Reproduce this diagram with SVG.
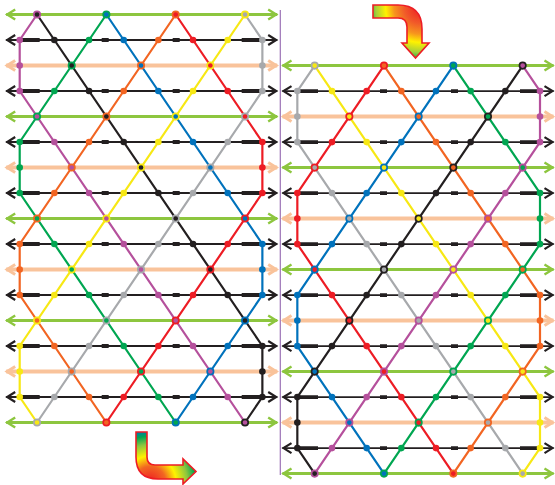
<svg xmlns="http://www.w3.org/2000/svg" width="555" height="485" viewBox="0 0 555 485">
<style>
.hk{stroke:#231f20;stroke-width:1.8;marker-start:url(#ak);marker-end:url(#ak)}
.hg{stroke:#8dc63f;stroke-width:3;marker-start:url(#ag);marker-end:url(#ag)}
.ho{stroke:#f9c39b;stroke-width:4;marker-start:url(#ao);marker-end:url(#ao)}
.thick{fill:none;stroke:#231f20;stroke-width:3.8}
.d{fill:none;stroke-width:2.2;stroke-linejoin:round}
.ring{stroke-width:1.7}
.s-pu{stroke:#b5509c}.f-pu{fill:#b5509c}
.s-bk{stroke:#231f20}.f-bk{fill:#231f20}
.s-gn{stroke:#00a651}.f-gn{fill:#00a651}
.s-bl{stroke:#0072bc}.f-bl{fill:#0072bc}
.s-or{stroke:#f26522}.f-or{fill:#f26522}
.s-rd{stroke:#ed1c24}.f-rd{fill:#ed1c24}
.s-ye{stroke:#f7e814}.f-ye{fill:#f7e814}
.s-gy{stroke:#a7a9ac}.f-gy{fill:#a7a9ac}
.arrow{stroke:#ed1c24;stroke-width:1.6;stroke-linejoin:miter}
</style>
<defs>
<marker id="ak" viewBox="-12 -7 14 14" refX="0" refY="0" markerWidth="14" markerHeight="14" markerUnits="userSpaceOnUse" orient="auto-start-reverse"><path d="M-9,-5 L-1,0 L-9,5" fill="none" stroke="#231f20" stroke-width="2.2"/></marker>
<marker id="ag" viewBox="-12 -7 14 14" refX="0" refY="0" markerWidth="14" markerHeight="14" markerUnits="userSpaceOnUse" orient="auto-start-reverse"><path d="M-9,-5 L-1,0 L-9,5" fill="none" stroke="#8dc63f" stroke-width="2.4"/></marker>
<marker id="ao" viewBox="-12 -7 14 14" refX="0" refY="0" markerWidth="14" markerHeight="14" markerUnits="userSpaceOnUse" orient="auto-start-reverse"><path d="M-9,-5 L-1,0 L-9,5" fill="none" stroke="#f9c39b" stroke-width="3"/></marker>
<radialGradient id="gt" gradientUnits="userSpaceOnUse" cx="420" cy="8" r="52">
<stop offset="0" stop-color="#ed1c24"/><stop offset="0.3" stop-color="#f15a29"/><stop offset="0.5" stop-color="#f7941d"/><stop offset="0.66" stop-color="#fff200"/><stop offset="0.85" stop-color="#a6ce39"/><stop offset="1" stop-color="#00a651"/>
</radialGradient>
<radialGradient id="gb" gradientUnits="userSpaceOnUse" cx="150" cy="482" r="52">
<stop offset="0" stop-color="#ed1c24"/><stop offset="0.3" stop-color="#f26522"/><stop offset="0.5" stop-color="#fff200"/><stop offset="0.72" stop-color="#8dc63f"/><stop offset="0.88" stop-color="#00a651"/><stop offset="1" stop-color="#0072bc"/>
</radialGradient>
<g id="lattice">
<g id="rows">
<line class="hg" x1="-13.5" y1="0" x2="257.5" y2="0"/>
<line class="hk" x1="-13.5" y1="25.5" x2="257.5" y2="25.5"/>
<line class="ho" x1="-13.5" y1="51" x2="257.5" y2="51"/>
<line class="hk" x1="-13.5" y1="76.5" x2="257.5" y2="76.5"/>
<line class="hg" x1="-13.5" y1="102" x2="257.5" y2="102"/>
<line class="hk" x1="-13.5" y1="127.5" x2="257.5" y2="127.5"/>
<line class="ho" x1="-13.5" y1="153" x2="257.5" y2="153"/>
<line class="hk" x1="-13.5" y1="178.5" x2="257.5" y2="178.5"/>
<line class="hg" x1="-13.5" y1="204" x2="257.5" y2="204"/>
<line class="hk" x1="-13.5" y1="229.5" x2="257.5" y2="229.5"/>
<line class="ho" x1="-13.5" y1="255" x2="257.5" y2="255"/>
<line class="hk" x1="-13.5" y1="280.5" x2="257.5" y2="280.5"/>
<line class="hg" x1="-13.5" y1="306" x2="257.5" y2="306"/>
<line class="hk" x1="-13.5" y1="331.5" x2="257.5" y2="331.5"/>
<line class="ho" x1="-13.5" y1="357" x2="257.5" y2="357"/>
<line class="hk" x1="-13.5" y1="382.5" x2="257.5" y2="382.5"/>
<line class="hg" x1="-13.5" y1="408" x2="257.5" y2="408"/>
<path class="thick" d="M2,25.5H20M82,25.5H89M153,25.5H160M222,25.5H242 M2,76.5H20M82,76.5H89M153,76.5H160M222,76.5H242 M2,127.5H20M82,127.5H89M153,127.5H160M222,127.5H242 M2,178.5H20M82,178.5H89M153,178.5H160M222,178.5H242 M2,229.5H20M82,229.5H89M153,229.5H160M222,229.5H242 M2,280.5H20M82,280.5H89M153,280.5H160M222,280.5H242 M2,331.5H20M82,331.5H89M153,331.5H160M222,331.5H242 M2,382.5H20M82,382.5H89M153,382.5H160M222,382.5H242"/>
</g>
<g id="diagonals">
<path class="d s-pu" d="M17.33,0 L0,25.5 L0,76.5 L225.33,408"/>
<path class="d s-bk" d="M17.33,0 L242.67,331.5 L242.67,382.5 L225.33,408"/>
<path class="d s-gn" d="M86.67,0 L0,127.5 L0,178.5 L156,408"/>
<path class="d s-bl" d="M86.67,0 L242.67,229.5 L242.67,280.5 L156,408"/>
<path class="d s-or" d="M156,0 L0,229.5 L0,280.5 L86.67,408"/>
<path class="d s-rd" d="M156,0 L242.67,127.5 L242.67,178.5 L86.67,408"/>
<path class="d s-ye" d="M225.33,0 L0,331.5 L0,382.5 L17.33,408"/>
<path class="d s-gy" d="M225.33,0 L242.67,25.5 L242.67,76.5 L17.33,408"/>
</g>
<g id="dots">
<g class="f-pu"><circle cx="0" cy="25.5" r="3.3"/><circle cx="0" cy="51" r="3.3"/><circle cx="0" cy="76.5" r="3.3"/><circle cx="34.67" cy="127.5" r="3.3"/><circle cx="69.33" cy="178.5" r="3.3"/><circle cx="104" cy="229.5" r="3.3"/><circle cx="138.67" cy="280.5" r="3.3"/><circle cx="173.33" cy="331.5" r="3.3"/><circle cx="208" cy="382.5" r="3.3"/></g>
<g class="f-bk"><circle cx="34.67" cy="25.5" r="3.3"/><circle cx="69.33" cy="76.5" r="3.3"/><circle cx="104" cy="127.5" r="3.3"/><circle cx="138.67" cy="178.5" r="3.3"/><circle cx="173.33" cy="229.5" r="3.3"/><circle cx="208" cy="280.5" r="3.3"/><circle cx="242.67" cy="331.5" r="3.3"/><circle cx="242.67" cy="357" r="3.3"/><circle cx="242.67" cy="382.5" r="3.3"/></g>
<g class="f-gn"><circle cx="69.33" cy="25.5" r="3.3"/><circle cx="34.67" cy="76.5" r="3.3"/><circle cx="0" cy="127.5" r="3.3"/><circle cx="0" cy="153" r="3.3"/><circle cx="0" cy="178.5" r="3.3"/><circle cx="34.67" cy="229.5" r="3.3"/><circle cx="69.33" cy="280.5" r="3.3"/><circle cx="104" cy="331.5" r="3.3"/><circle cx="138.67" cy="382.5" r="3.3"/></g>
<g class="f-bl"><circle cx="104" cy="25.5" r="3.3"/><circle cx="138.67" cy="76.5" r="3.3"/><circle cx="173.33" cy="127.5" r="3.3"/><circle cx="208" cy="178.5" r="3.3"/><circle cx="242.67" cy="229.5" r="3.3"/><circle cx="242.67" cy="255" r="3.3"/><circle cx="242.67" cy="280.5" r="3.3"/><circle cx="208" cy="331.5" r="3.3"/><circle cx="173.33" cy="382.5" r="3.3"/></g>
<g class="f-or"><circle cx="138.67" cy="25.5" r="3.3"/><circle cx="104" cy="76.5" r="3.3"/><circle cx="69.33" cy="127.5" r="3.3"/><circle cx="34.67" cy="178.5" r="3.3"/><circle cx="0" cy="229.5" r="3.3"/><circle cx="0" cy="255" r="3.3"/><circle cx="0" cy="280.5" r="3.3"/><circle cx="34.67" cy="331.5" r="3.3"/><circle cx="69.33" cy="382.5" r="3.3"/></g>
<g class="f-rd"><circle cx="173.33" cy="25.5" r="3.3"/><circle cx="208" cy="76.5" r="3.3"/><circle cx="242.67" cy="127.5" r="3.3"/><circle cx="242.67" cy="153" r="3.3"/><circle cx="242.67" cy="178.5" r="3.3"/><circle cx="208" cy="229.5" r="3.3"/><circle cx="173.33" cy="280.5" r="3.3"/><circle cx="138.67" cy="331.5" r="3.3"/><circle cx="104" cy="382.5" r="3.3"/></g>
<g class="f-ye"><circle cx="208" cy="25.5" r="3.3"/><circle cx="173.33" cy="76.5" r="3.3"/><circle cx="138.67" cy="127.5" r="3.3"/><circle cx="104" cy="178.5" r="3.3"/><circle cx="69.33" cy="229.5" r="3.3"/><circle cx="34.67" cy="280.5" r="3.3"/><circle cx="0" cy="331.5" r="3.3"/><circle cx="0" cy="357" r="3.3"/><circle cx="0" cy="382.5" r="3.3"/></g>
<g class="f-gy"><circle cx="242.67" cy="25.5" r="3.3"/><circle cx="242.67" cy="51" r="3.3"/><circle cx="242.67" cy="76.5" r="3.3"/><circle cx="208" cy="127.5" r="3.3"/><circle cx="173.33" cy="178.5" r="3.3"/><circle cx="138.67" cy="229.5" r="3.3"/><circle cx="104" cy="280.5" r="3.3"/><circle cx="69.33" cy="331.5" r="3.3"/><circle cx="34.67" cy="382.5" r="3.3"/></g>
</g>
</g>
</defs>

<line id="separator" x1="280.3" y1="10" x2="280.3" y2="475" stroke="#9b72b6" stroke-width="1.2"/>

<g id="left-panel" transform="translate(19.7,14.5)">
<use href="#lattice"/>
<g id="left-crossings" class="ring">
<circle class="s-pu f-bk" cx="17.33" cy="0" r="3.2"/><circle class="s-gn f-bl" cx="86.67" cy="0" r="3.2"/><circle class="s-or f-rd" cx="156" cy="0" r="3.2"/><circle class="s-ye f-gy" cx="225.33" cy="0" r="3.2"/>
<circle class="s-gn f-bk" cx="52" cy="51" r="3.2"/><circle class="s-or f-bl" cx="121.33" cy="51" r="3.2"/><circle class="s-ye f-rd" cx="190.67" cy="51" r="3.2"/>
<circle class="s-gn f-pu" cx="17.33" cy="102" r="3.2"/><circle class="s-or f-bk" cx="86.67" cy="102" r="3.2"/><circle class="s-ye f-bl" cx="156" cy="102" r="3.2"/><circle class="s-gy f-rd" cx="225.33" cy="102" r="3.2"/>
<circle class="s-or f-pu" cx="52" cy="153" r="3.2"/><circle class="s-ye f-bk" cx="121.33" cy="153" r="3.2"/><circle class="s-gy f-bl" cx="190.67" cy="153" r="3.2"/>
<circle class="s-or f-gn" cx="17.33" cy="204" r="3.2"/><circle class="s-ye f-pu" cx="86.67" cy="204" r="3.2"/><circle class="s-gy f-bk" cx="156" cy="204" r="3.2"/><circle class="s-rd f-bl" cx="225.33" cy="204" r="3.2"/>
<circle class="s-ye f-gn" cx="52" cy="255" r="3.2"/><circle class="s-gy f-pu" cx="121.33" cy="255" r="3.2"/><circle class="s-rd f-bk" cx="190.67" cy="255" r="3.2"/>
<circle class="s-ye f-or" cx="17.33" cy="306" r="3.2"/><circle class="s-gy f-gn" cx="86.67" cy="306" r="3.2"/><circle class="s-rd f-pu" cx="156" cy="306" r="3.2"/><circle class="s-bl f-bk" cx="225.33" cy="306" r="3.2"/>
<circle class="s-gy f-or" cx="52" cy="357" r="3.2"/><circle class="s-rd f-gn" cx="121.33" cy="357" r="3.2"/><circle class="s-bl f-pu" cx="190.67" cy="357" r="3.2"/>
<circle class="s-gy f-ye" cx="17.33" cy="408" r="3.2"/><circle class="s-rd f-or" cx="86.67" cy="408" r="3.2"/><circle class="s-bl f-gn" cx="156" cy="408" r="3.2"/><circle class="s-bk f-pu" cx="225.33" cy="408" r="3.2"/>
</g>
</g>

<g id="right-panel" transform="translate(540,65.6) scale(-1,1)">
<use href="#lattice"/>
<g id="right-crossings" class="ring">
<circle class="f-pu s-bk" cx="17.33" cy="0" r="3.2"/><circle class="f-gn s-bl" cx="86.67" cy="0" r="3.2"/><circle class="f-or s-rd" cx="156" cy="0" r="3.2"/><circle class="f-ye s-gy" cx="225.33" cy="0" r="3.2"/>
<circle class="f-gn s-bk" cx="52" cy="51" r="3.2"/><circle class="f-or s-bl" cx="121.33" cy="51" r="3.2"/><circle class="f-ye s-rd" cx="190.67" cy="51" r="3.2"/>
<circle class="f-gn s-pu" cx="17.33" cy="102" r="3.2"/><circle class="f-or s-bk" cx="86.67" cy="102" r="3.2"/><circle class="f-ye s-bl" cx="156" cy="102" r="3.2"/><circle class="f-gy s-rd" cx="225.33" cy="102" r="3.2"/>
<circle class="f-or s-pu" cx="52" cy="153" r="3.2"/><circle class="f-ye s-bk" cx="121.33" cy="153" r="3.2"/><circle class="f-gy s-bl" cx="190.67" cy="153" r="3.2"/>
<circle class="f-or s-gn" cx="17.33" cy="204" r="3.2"/><circle class="f-ye s-pu" cx="86.67" cy="204" r="3.2"/><circle class="f-gy s-bk" cx="156" cy="204" r="3.2"/><circle class="f-rd s-bl" cx="225.33" cy="204" r="3.2"/>
<circle class="f-ye s-gn" cx="52" cy="255" r="3.2"/><circle class="f-gy s-pu" cx="121.33" cy="255" r="3.2"/><circle class="f-rd s-bk" cx="190.67" cy="255" r="3.2"/>
<circle class="f-ye s-or" cx="17.33" cy="306" r="3.2"/><circle class="f-gy s-gn" cx="86.67" cy="306" r="3.2"/><circle class="f-rd s-pu" cx="156" cy="306" r="3.2"/><circle class="f-bl s-bk" cx="225.33" cy="306" r="3.2"/>
<circle class="f-gy s-or" cx="52" cy="357" r="3.2"/><circle class="f-rd s-gn" cx="121.33" cy="357" r="3.2"/><circle class="f-bl s-pu" cx="190.67" cy="357" r="3.2"/>
<circle class="f-gy s-ye" cx="17.33" cy="408" r="3.2"/><circle class="f-rd s-or" cx="86.67" cy="408" r="3.2"/><circle class="f-bl s-gn" cx="156" cy="408" r="3.2"/><circle class="f-bk s-pu" cx="225.33" cy="408" r="3.2"/>
</g>
</g>

<g id="arrows">
<path id="arrow-top" class="arrow" fill="url(#gt)" d="M373,5 H398 Q422,5 422,29 V43 H429 L415.5,58 L402,43 H407 V27 Q407,18 398,18 H373 Z"/>
<path id="arrow-bottom" class="arrow" fill="url(#gb)" d="M136,432 H147 V457 Q147,465 155,465 H183 V459 L196,471.5 L183,484 V479 H158 Q136,479 136,457 Z"/>
</g>
</svg>
